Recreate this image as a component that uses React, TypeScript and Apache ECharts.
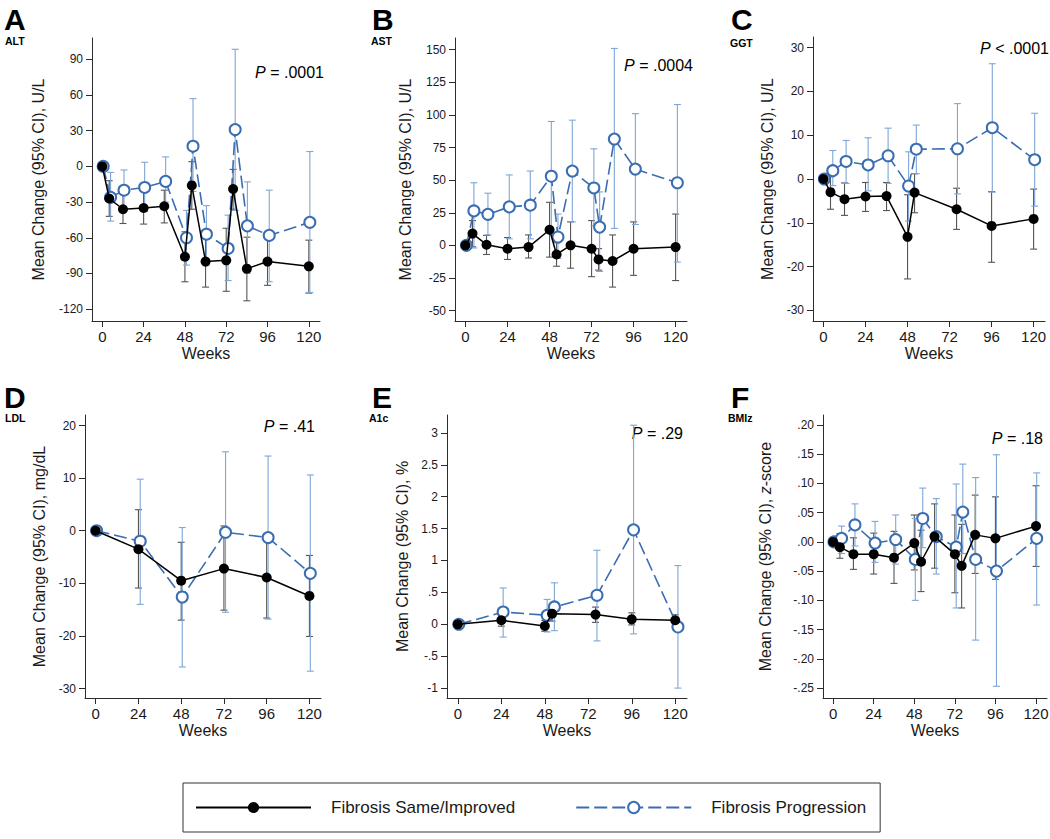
import React, { useEffect, useRef } from "react";
import * as echarts from "echarts";

const FONT = '"Liberation Sans", Arial, Helvetica, sans-serif';
const BLACK = "#000000";
const BLACK_ERR = "#555555";
const BLUE = "#3a6db1";
const BLUE_ERR = "#7ea6d6";
const SAME_NAME = "Fibrosis Same/Improved";
const PROG_NAME = "Fibrosis Progression";

const weekTicks = [0, 24, 48, 72, 96, 120];

// A: ALT
const altWeeksSame = [0, 4, 12, 24, 36, 48, 52, 60, 72, 76, 84, 96, 120];
const altSame = [0, -27, -36, -35, -33.5, -76, -16, -80, -79, -19, -86, -80, -84];
const altSameLo = [null, -42, -48, -48.5, -47.5, -97, -36, -101.5, -105, -36, -113, -100, -106.5];
const altSameHi = [null, -12, -23, -21, -20, -55, 4, -58, -52, -2.5, -59.5, -60, -62];
const altWeeksProg = [0.5, 4.8, 12.6, 24.6, 36.8, 48.9, 52.7, 60.5, 73.1, 77.2, 84.3, 97, 120.6];
const altProg = [0, -26, -20, -17.7, -12.6, -60, 17, -57, -69, 31, -50, -58, -47];
const altProgLo = [null, -46, -37, -38, -30, -83, -21, -83, -96, -37, -90, -97, -106];
const altProgHi = [null, -5, -3, 3.5, 8, -37, 57, -33, -41, 98.5, -13, -20, 12.5];
const altTicks = [-120, -90, -60, -30, 0, 30, 60, 90];

// B: AST
const astWeeksSame = [0, 4, 12, 24, 36, 48, 52, 60, 72, 76, 84, 96, 120];
const astSame = [0, 9, 0.5, -2.6, -1.3, 12, -7, 0, -2.6, -10.8, -12, -2.6, -1.3];
const astSameLo = [null, -1, -7, -10.8, -9.7, -9, -16, -17.5, -24, -19, -32, -23, -27];
const astSameHi = [null, 19, 7.7, 6, 8, 33, 2, 18, 19, -2.5, 8, 18, 24];
const astWeeksProg = [0.5, 4.8, 12.8, 25, 37, 49, 52.8, 61, 73.3, 76.6, 85, 97, 121];
const astProg = [0, 26.4, 23.8, 29.5, 30.8, 53, 6.4, 57, 44, 14, 81.5, 58.5, 48];
const astProgLo = [null, -2, 8, 5, 5, 10, -10, 18, 15, -20, 13, 16, -12.8];
const astProgHi = [null, 48, 40, 54, 57, 95, 24, 96, 74, 41, 151, 101, 108];
const astTicks = [-50, -25, 0, 25, 50, 75, 100, 125, 150];

// C: GGT
const ggtWeeksSame = [0, 4, 12, 24, 36, 48, 52, 76, 96, 120];
const ggtSame = [0, -3, -4.6, -4, -3.9, -13.2, -3.1, -6.9, -10.7, -9.1];
const ggtSameLo = [null, -6.9, -8.3, -7.4, -7.2, -22.8, -7.7, -11.5, -19, -16];
const ggtSameHi = [null, 0.5, -0.9, -0.8, -0.8, -3.6, 1.2, -2.1, -2.9, -2.3];
const ggtWeeksProg = [0.5, 5.3, 12.9, 25.5, 36.9, 48.6, 53, 76.5, 96.4, 120.6];
const ggtProg = [0, 1.9, 4, 3.2, 5.3, -1.6, 6.8, 6.9, 11.7, 4.4];
const ggtProgLo = [null, -1.5, -1, -2.7, -1, -9.6, 1.2, -3.4, -3, -6.2];
const ggtProgHi = [null, 6.5, 8.8, 9.4, 11.6, 6.2, 12.3, 17.2, 26.3, 15];
const ggtTicks = [-30, -20, -10, 0, 10, 20, 30];

// D: LDL
const ldlWeeksSame = [0, 24, 48, 72, 96, 120];
const ldlSame = [0, -3.5, -9.5, -7.2, -8.9, -12.4];
const ldlSameLo = [null, -10.9, -17, -15.1, -16.6, -20.1];
const ldlSameHi = [null, 4, -2.2, 0.9, -1, -4.7];
const ldlWeeksProg = [0.5, 25, 48.6, 72.9, 96.8, 120.5];
const ldlProg = [0, -2, -12.6, -0.3, -1.3, -8.1];
const ldlProgLo = [null, -14, -25.9, -15.5, -16.8, -26.7];
const ldlProgHi = [null, 9.8, 0.6, 15, 14.2, 10.6];
const ldlTicks = [-30, -20, -10, 0, 10, 20];

// E: A1c
const a1cWeeksSame = [0, 24, 48, 52, 76, 96, 120];
const a1cSame = [0, 0.063, -0.026, 0.167, 0.152, 0.078, 0.063];
const a1cSameLo = [null, -0.03, -0.11, 0.05, 0.03, -0.01, -0.03];
const a1cSameHi = [null, 0.15, 0.06, 0.28, 0.27, 0.18, 0.15];
const a1cWeeksProg = [0.5, 25, 49.3, 53.3, 76.8, 97, 121.5];
const a1cProg = [0, 0.193, 0.141, 0.272, 0.455, 1.48, -0.042];
const a1cProgLo = [null, -0.2, -0.12, -0.1, -0.26, -0.15, -1.0];
const a1cProgHi = [null, 0.57, 0.39, 0.65, 1.16, 3.12, 0.92];
const a1cTicks = [-1, -0.5, 0, 0.5, 1, 1.5, 2, 2.5, 3];

// F: BMIz
const bmiWeeksSame = [0, 4, 12, 24, 36, 48, 52, 60, 72, 76, 84, 96, 120];
const bmiSame = [0, -0.009, -0.021, -0.021, -0.027, -0.002, -0.034, 0.009, -0.021, -0.041, 0.012, 0.006, 0.027];
const bmiSameLo = [null, -0.028, -0.047, -0.055, -0.071, -0.048, -0.085, -0.045, -0.087, -0.113, -0.054, -0.064, -0.042];
const bmiSameHi = [null, 0.014, 0.007, 0.015, 0.018, 0.046, 0.02, 0.065, 0.046, 0.03, 0.08, 0.077, 0.096];
const bmiWeeksProg = [0.5, 5, 12.9, 24.8, 37, 48.6, 53, 61, 72.8, 76.7, 84.3, 96.6, 120.4];
const bmiProg = [0, 0.006, 0.029, -0.002, 0.004, -0.03, 0.04, 0.009, -0.009, 0.051, -0.03, -0.05, 0.006];
const bmiProgLo = [null, -0.02, -0.007, -0.035, -0.038, -0.1, -0.01, -0.055, -0.113, -0.02, -0.168, -0.247, -0.108];
const bmiProgHi = [null, 0.027, 0.065, 0.035, 0.046, 0.04, 0.092, 0.074, 0.099, 0.133, 0.11, 0.149, 0.118];
const bmiTicks = [-0.25, -0.2, -0.15, -0.1, -0.05, 0, 0.05, 0.1, 0.15, 0.2];

const intFmt = (v: number) => String(v);
const halfFmt = (v: number) => {
  if (v === 0) return "0";
  const a = Math.abs(v);
  const s = a < 1 ? String(a).replace(/^0/, "") : String(a);
  return (v < 0 ? "-" : "") + s;
};
const twoFmt = (v: number) => {
  if (Math.abs(v) < 1e-9) return ".00";
  return (v < 0 ? "-" : "") + Math.abs(v).toFixed(2).replace(/^0/, "");
};

const panels = [
  {
    letter: "A", sub: "ALT", p: "= .0001", yName: "Mean Change (95% CI), U/L",
    grid: { left: 92, top: 38, width: 228, height: 283 }, yMin: -130, yMax: 108,
    ticks: altTicks, fmt: intFmt, nameGap: 46, letterPos: [4, 19], subPos: [5, 41], pPos: [324, 72],
    same: [altWeeksSame, altSame, altSameLo, altSameHi], prog: [altWeeksProg, altProg, altProgLo, altProgHi],
  },
  {
    letter: "B", sub: "AST", p: "= .0004", yName: "Mean Change (95% CI), U/L",
    grid: { left: 455, top: 38, width: 232, height: 283 }, yMin: -58, yMax: 159,
    ticks: astTicks, fmt: intFmt, nameGap: 42, letterPos: [372, 19], subPos: [371, 41], pPos: [693, 65],
    same: [astWeeksSame, astSame, astSameLo, astSameHi], prog: [astWeeksProg, astProg, astProgLo, astProgHi],
  },
  {
    letter: "C", sub: "GGT", p: "< .0001", yName: "Mean Change (95% CI), U/L",
    grid: { left: 813, top: 37, width: 232, height: 284 }, yMin: -32.4, yMax: 32.4,
    ticks: ggtTicks, fmt: intFmt, nameGap: 38, letterPos: [731, 19], subPos: [730, 43], pPos: [1049, 48],
    same: [ggtWeeksSame, ggtSame, ggtSameLo, ggtSameHi], prog: [ggtWeeksProg, ggtProg, ggtProgLo, ggtProgHi],
  },
  {
    letter: "D", sub: "LDL", p: "= .41", yName: "Mean Change (95% CI), mg/dL",
    grid: { left: 85, top: 415, width: 236, height: 283 }, yMin: -31.8, yMax: 22,
    ticks: ldlTicks, fmt: intFmt, nameGap: 38, letterPos: [4, 397], subPos: [5, 418], pPos: [315, 426],
    same: [ldlWeeksSame, ldlSame, ldlSameLo, ldlSameHi], prog: [ldlWeeksProg, ldlProg, ldlProgLo, ldlProgHi],
  },
  {
    letter: "E", sub: "A1c", p: "= .29", yName: "Mean Change (95% CI), %",
    grid: { left: 447, top: 415, width: 240, height: 283 }, yMin: -1.155, yMax: 3.28,
    ticks: a1cTicks, fmt: halfFmt, nameGap: 37, letterPos: [372, 397], subPos: [369, 418], pPos: [683, 433],
    same: [a1cWeeksSame, a1cSame, a1cSameLo, a1cSameHi], prog: [a1cWeeksProg, a1cProg, a1cProgLo, a1cProgHi],
  },
  {
    letter: "F", sub: "BMIz", p: "= .18", yName: "Mean Change (95% CI), {i|z}-score",
    grid: { left: 823, top: 415, width: 224, height: 283 }, yMin: -0.267, yMax: 0.217,
    ticks: bmiTicks, fmt: twoFmt, nameGap: 50, letterPos: [731, 397], subPos: [728, 418], pPos: [1043, 438],
    same: [bmiWeeksSame, bmiSame, bmiSameLo, bmiSameHi], prog: [bmiWeeksProg, bmiProg, bmiProgLo, bmiProgHi],
  },
];

function errData(arr: any[]) {
  const [w, , lo, hi] = arr;
  const out: number[][] = [];
  for (let i = 0; i < w.length; i++) {
    if (lo[i] == null || hi[i] == null) continue;
    out.push([w[i], lo[i], hi[i]]);
  }
  return out;
}

function lineData(arr: any[]) {
  const [w, v] = arr;
  return w.map((x: number, i: number) => [x, v[i]]);
}

function errRender(color: string) {
  return (params: any, api: any) => {
    const x = api.value(0);
    const p1 = api.coord([x, api.value(1)]);
    const p2 = api.coord([x, api.value(2)]);
    const hw = 3.5;
    const style = { stroke: color, lineWidth: 1.1 };
    return {
      type: "group",
      children: [
        { type: "line", shape: { x1: p1[0], y1: p1[1], x2: p2[0], y2: p2[1] }, style },
        { type: "line", shape: { x1: p1[0] - hw, y1: p1[1], x2: p1[0] + hw, y2: p1[1] }, style },
        { type: "line", shape: { x1: p2[0] - hw, y1: p2[1], x2: p2[0] + hw, y2: p2[1] }, style },
      ],
    };
  };
}

export default function App() {
  const ref = useRef<HTMLDivElement>(null);
  useEffect(() => {
    if (!ref.current) return;
    const chart = echarts.init(ref.current, null, { renderer: "svg" });

    const grids: any[] = [];
    const xAxes: any[] = [];
    const yAxes: any[] = [];
    const series: any[] = [];
    const graphics: any[] = [];

    panels.forEach((pn, i) => {
      grids.push({ ...pn.grid, containLabel: false, outerBoundsMode: "none", show: false });
      xAxes.push({
        type: "value",
        gridIndex: i,
        min: -6,
        max: 126.5,
        name: "Weeks",
        nameLocation: "middle",
        nameGap: 24,
        nameTextStyle: { fontSize: 16, color: "#1a1a1a", fontFamily: FONT },
        splitLine: { show: false },
        axisLine: { show: true, onZero: false, lineStyle: { color: "#2b2b2b", width: 1 } },
        axisTick: { show: true, length: 6, customValues: weekTicks, lineStyle: { color: "#2b2b2b" } },
        axisLabel: { customValues: weekTicks, fontSize: 15, color: "#1a1a1a", margin: 8, fontFamily: FONT },
      });
      yAxes.push({
        type: "value",
        gridIndex: i,
        min: pn.yMin,
        max: pn.yMax,
        name: pn.yName,
        nameLocation: "middle",
        nameGap: pn.nameGap,
        nameRotate: 90,
        nameTextStyle: {
          fontSize: 16, color: "#1a1a1a", fontFamily: FONT,
          rich: { i: { fontStyle: "italic", fontSize: 16, color: "#1a1a1a", fontFamily: FONT } },
        },
        splitLine: { show: false },
        axisLine: { show: true, onZero: false, lineStyle: { color: "#2b2b2b", width: 1 } },
        axisTick: { show: true, length: 6, customValues: pn.ticks, lineStyle: { color: "#2b2b2b" } },
        axisLabel: { customValues: pn.ticks, fontSize: 12, color: "#1a1a1a", margin: 9, fontFamily: FONT, formatter: pn.fmt },
      });
      series.push({
        type: "custom",
        name: "ci-same-" + pn.letter,
        xAxisIndex: i,
        yAxisIndex: i,
        renderItem: errRender(BLACK_ERR),
        encode: { x: 0, y: [1, 2] },
        data: errData(pn.same),
        z: 2,
        silent: true,
      });
      series.push({
        type: "custom",
        name: "ci-prog-" + pn.letter,
        xAxisIndex: i,
        yAxisIndex: i,
        renderItem: errRender(BLUE_ERR),
        encode: { x: 0, y: [1, 2] },
        data: errData(pn.prog),
        z: 2,
        silent: true,
      });
      series.push({
        type: "line",
        name: PROG_NAME,
        xAxisIndex: i,
        yAxisIndex: i,
        data: lineData(pn.prog),
        symbol: "emptyCircle",
        symbolSize: 11,
        showAllSymbol: true,
        lineStyle: { color: BLUE, width: 1.6, type: [13, 5] },
        itemStyle: { color: BLUE, borderColor: BLUE, borderWidth: 1.6 },
        z: 3,
      });
      series.push({
        type: "line",
        name: SAME_NAME,
        xAxisIndex: i,
        yAxisIndex: i,
        data: lineData(pn.same),
        symbol: "circle",
        symbolSize: 10,
        showAllSymbol: true,
        lineStyle: { color: BLACK, width: 1.5 },
        itemStyle: { color: BLACK },
        z: 4,
      });

      graphics.push({
        type: "text", x: pn.letterPos[0], y: pn.letterPos[1],
        style: {
          text: pn.letter, fontSize: 30, lineHeight: 22, fontWeight: "bold", fontFamily: FONT, fill: "#000",
          verticalAlign: "middle",
        },
      });
      graphics.push({
        type: "text", x: pn.subPos[0], y: pn.subPos[1],
        style: {
          text: pn.sub, fontSize: 10.5, lineHeight: 9, fontWeight: "bold", fontFamily: FONT, fill: "#000",
          verticalAlign: "middle",
        },
      });
      graphics.push({
        type: "text", x: pn.pPos[0], y: pn.pPos[1],
        style: {
          text: "{i|P} " + pn.p, fontSize: 16, fontFamily: FONT, fill: "#000",
          align: "right", verticalAlign: "middle",
          rich: { i: { fontStyle: "italic", fontSize: 16, fontFamily: FONT, fill: "#000" } },
        },
      });
    });

    chart.setOption({
      animation: false,
      backgroundColor: "#ffffff",
      textStyle: { fontFamily: FONT },
      grid: grids,
      xAxis: xAxes,
      yAxis: yAxes,
      series,
      graphic: graphics,
      legend: {
        data: [SAME_NAME, PROG_NAME],
        left: 183,
        top: 783,
        orient: "horizontal",
        borderColor: "#333",
        borderWidth: 1,
        borderRadius: 0,
        padding: [16, 14, 16, 12],
        itemWidth: 115,
        itemHeight: 14,
        itemGap: 60,
        selectedMode: false,
        textStyle: { fontSize: 17, color: "#1a1a1a", fontFamily: FONT, padding: [0, 0, 0, 15] },
      },
    });
    return () => chart.dispose();
  }, []);
  return <div ref={ref} style={{ position: "absolute", left: 0, top: 0, width: 1050, height: 839 }} />;
}
